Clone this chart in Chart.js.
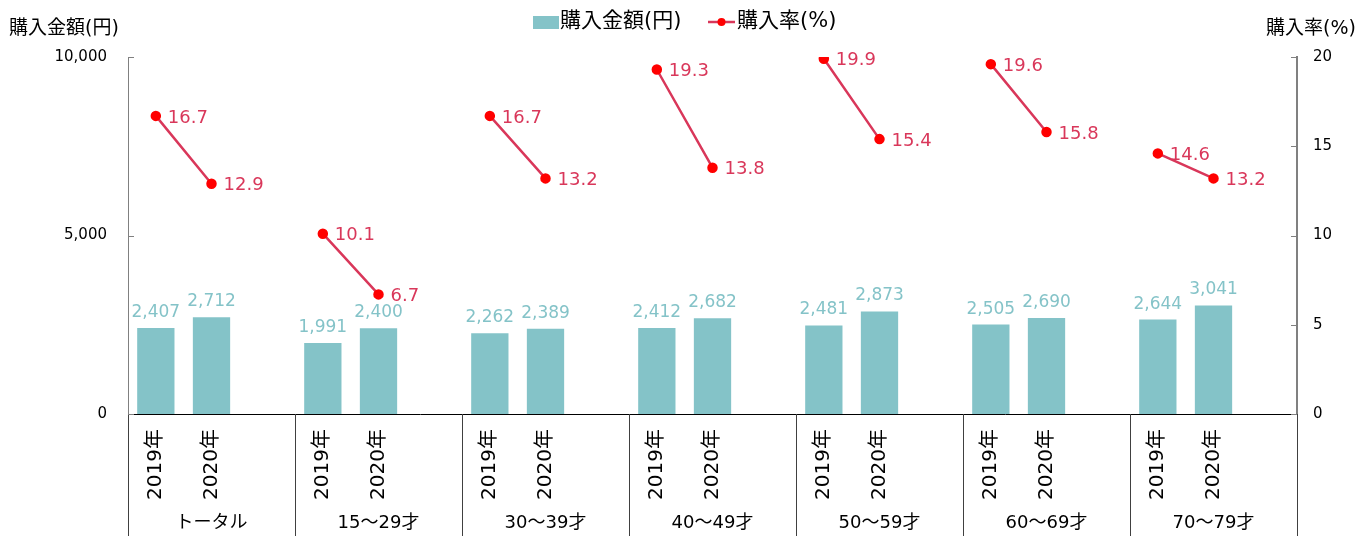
<!DOCTYPE html>
<html lang="ja">
<head>
<meta charset="utf-8">
<script src="https://cdn.jsdelivr.net/npm/chart.js@4/dist/chart.umd.min.js"></script>
<style>
    html, body { margin: 0; padding: 0; background: #fff; }
    #wrap { width: 1359px; height: 536px; position: relative; }
</style>
</head>
<body>
<div id="wrap"><canvas id="chart"></canvas></div>
<script>
const groups = ["トータル", "15～29才", "30～39才", "40～49才", "50～59才", "60～69才", "70～79才"];
const years = ["2019年", "2020年"];
const amounts = [2407, 2712, 1991, 2400, 2262, 2389, 2412, 2682, 2481, 2873, 2505, 2690, 2644, 3041];
const rates = [16.7, 12.9, 10.1, 6.7, 16.7, 13.2, 19.3, 13.8, 19.9, 15.4, 19.6, 15.8, 14.6, 13.2];
const leftTicks = [0, 5000, 10000];
const rightTicks = [0, 5, 10, 15, 20];

const BAR_COLOR = "#84C3C8";
const LINE_COLOR = "#D9375A";
const POINT_COLOR = "#FF0000";
const NUM_FONT = "'DejaVu Sans', Verdana, sans-serif";
const JP_FONT = "'DejaVu Sans', 'Noto Sans CJK JP', sans-serif";

// each group: 2019, 2020, empty slot
const labels = [];
const barData = [];
const lineData = [];
groups.forEach((g, i) => {
    labels.push(years[0], years[1], "");
    barData.push(amounts[i * 2], amounts[i * 2 + 1], null);
    lineData.push(rates[i * 2], rates[i * 2 + 1], null);
});

const extras = {
    id: "extras",
    afterDatasetsDraw(chart) {
        const ctx = chart.ctx;

        // value labels
        ctx.save();
        ctx.font = "17px " + NUM_FONT;
        ctx.textAlign = "center";
        ctx.textBaseline = "alphabetic";
        ctx.fillStyle = BAR_COLOR;
        chart.getDatasetMeta(0).data.forEach((bar, i) => {
            if (barData[i] == null) return;
            ctx.fillText(barData[i].toLocaleString("en-US"), bar.x, bar.y - 11);
        });
        ctx.font = "18px " + NUM_FONT;
        ctx.textAlign = "left";
        ctx.textBaseline = "middle";
        ctx.fillStyle = LINE_COLOR;
        chart.getDatasetMeta(1).data.forEach((pt, i) => {
            if (lineData[i] == null) return;
            ctx.fillText(lineData[i].toFixed(1), pt.x + 12, pt.y + 2);
        });
        ctx.restore();
    },
    afterDraw(chart) {
        const ctx = chart.ctx;
        const area = chart.chartArea;
        const yl = chart.scales.y;
        const yr = chart.scales.y1;

        ctx.save();
        // group separators below the axis
        ctx.strokeStyle = "#404040";
        ctx.lineWidth = 1;
        const step = (area.right - area.left) / groups.length;
        for (let i = 0; i <= groups.length; i++) {
            const gx = Math.round(area.left + step * i) + 0.5;
            ctx.beginPath();
            ctx.moveTo(gx, area.bottom);
            ctx.lineTo(gx, chart.height);
            ctx.stroke();
        }
        // group names
        ctx.fillStyle = "#000";
        ctx.font = "18px " + JP_FONT;
        ctx.textAlign = "center";
        ctx.textBaseline = "middle";
        groups.forEach((g, i) => {
            ctx.fillText(g, area.left + step * (i + 0.5), 523);
        });

        // inside tick marks
        ctx.strokeStyle = "#808080";
        leftTicks.forEach(v => {
            const ty = Math.round(yl.getPixelForValue(v)) + 0.5;
            ctx.beginPath();
            ctx.moveTo(area.left, ty);
            ctx.lineTo(area.left + 6, ty);
            ctx.stroke();
        });
        rightTicks.forEach(v => {
            const ty = Math.round(yr.getPixelForValue(v)) + 0.5;
            ctx.beginPath();
            ctx.moveTo(area.right - 6, ty);
            ctx.lineTo(area.right, ty);
            ctx.stroke();
        });

        // axis titles
        ctx.fillStyle = "#000";
        ctx.font = "19px " + JP_FONT;
        ctx.textBaseline = "middle";
        ctx.textAlign = "left";
        ctx.fillText("購入金額(円)", 9, 29);
        ctx.textAlign = "right";
        ctx.fillText("購入率(%)", 1356, 29);

        // legend
        ctx.font = "21px " + JP_FONT;
        ctx.textAlign = "left";
        ctx.fillStyle = BAR_COLOR;
        ctx.fillRect(533, 16, 26, 13);
        ctx.fillStyle = "#000";
        ctx.fillText("購入金額(円)", 560, 22);
        ctx.strokeStyle = LINE_COLOR;
        ctx.lineWidth = 2.5;
        ctx.beginPath();
        ctx.moveTo(708, 22);
        ctx.lineTo(735, 22);
        ctx.stroke();
        ctx.fillStyle = POINT_COLOR;
        ctx.beginPath();
        ctx.arc(721.5, 22, 4, 0, Math.PI * 2);
        ctx.fill();
        ctx.fillStyle = "#000";
        ctx.fillText("購入率(%)", 737, 22);
        ctx.restore();
    }
};

new Chart(document.getElementById("chart"), {
    data: {
        labels: labels,
        datasets: [
            {
                type: "bar",
                label: "購入金額(円)",
                data: barData,
                backgroundColor: BAR_COLOR,
                barPercentage: 0.67,
                categoryPercentage: 1,
                yAxisID: "y",
                order: 2
            },
            {
                type: "line",
                label: "購入率(%)",
                data: lineData,
                borderColor: LINE_COLOR,
                borderWidth: 2.5,
                pointBackgroundColor: POINT_COLOR,
                pointBorderColor: POINT_COLOR,
                pointRadius: 4,
                spanGaps: false,
                yAxisID: "y1",
                order: 1
            }
        ]
    },
    plugins: [extras],
    options: {
        responsive: true,
        maintainAspectRatio: false,
        animation: false,
        layout: { padding: { top: 57, left: 0, right: 0, bottom: 0 } },
        plugins: {
            legend: { display: false },
            tooltip: { enabled: false }
        },
        scales: {
            x: {
                grid: { display: false, drawTicks: false },
                border: { display: true, color: "#000", width: 1 },
                ticks: {
                    autoSkip: false,
                    minRotation: 90,
                    maxRotation: 90,
                    padding: 15,
                    color: "#000",
                    font: { size: 20, family: JP_FONT }
                },
                afterFit(scale) { scale.height = 122; }
            },
            y: {
                position: "left",
                min: 0,
                max: 10000,
                afterBuildTicks(scale) { scale.ticks = leftTicks.map(v => ({ value: v })); },
                grid: { display: false, drawTicks: false },
                border: { display: true, color: "#808080", width: 1 },
                ticks: {
                    padding: 21,
                    color: "#000",
                    font: { size: 15, family: NUM_FONT },
                    callback: v => v.toLocaleString("en-US")
                },
                afterFit(scale) { scale.width = 128; }
            },
            y1: {
                position: "right",
                min: 0,
                max: 20,
                afterBuildTicks(scale) { scale.ticks = rightTicks.map(v => ({ value: v })); },
                grid: { display: false, drawTicks: false },
                border: { display: true, color: "#808080", width: 2 },
                ticks: {
                    padding: 16,
                    color: "#000",
                    font: { size: 15, family: NUM_FONT }
                },
                afterFit(scale) { scale.width = 62; }
            }
        }
    }
});
</script>
</body>
</html>
